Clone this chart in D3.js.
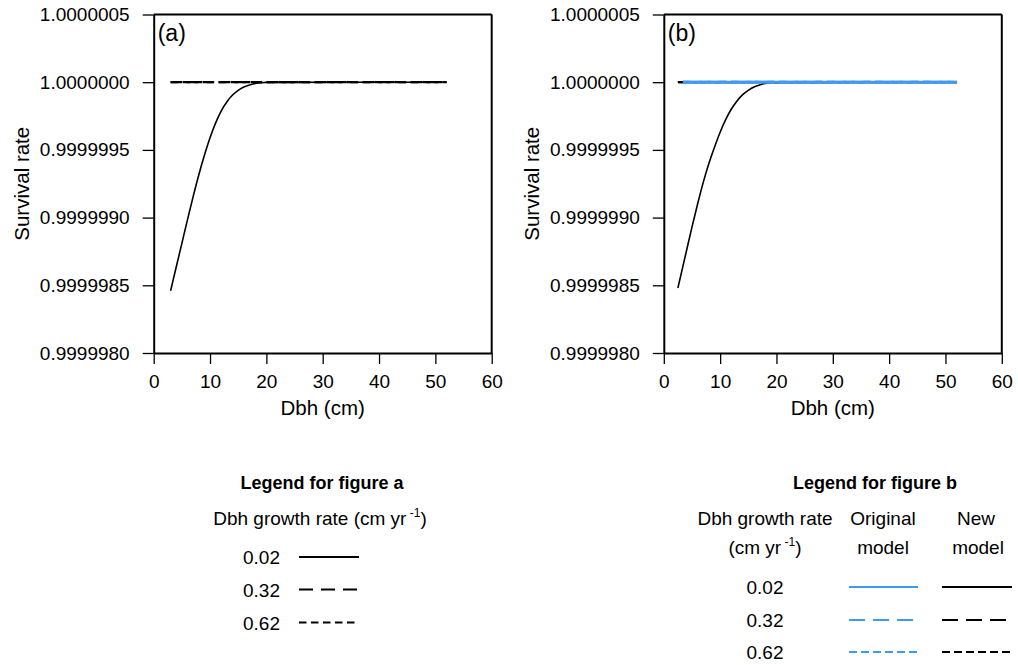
<!DOCTYPE html>
<html>
<head>
<meta charset="utf-8">
<script src="https://cdn.jsdelivr.net/npm/d3@7"></script>
<style>
  html, body { margin: 0; padding: 0; background: #fff; }
  text { font-family: "Liberation Sans", Arial, sans-serif; fill: #000; }
</style>
</head>
<body>
<svg id="chart" width="1018" height="665"></svg>
<script>
// ---------------- DATA ----------------
const xTicks = [0, 10, 20, 30, 40, 50, 60];
const xMinorTicks = [2, 4, 6, 8, 12, 14, 16, 18, 22, 24, 26, 28, 32, 34, 36, 38, 42, 44, 46, 48, 52, 54, 56, 58];
const yTicks = [0.9999980, 0.9999985, 0.9999990, 0.9999995, 1.0000000, 1.0000005];
const yTickLabels = ["0.9999980", "0.9999985", "0.9999990", "0.9999995", "1.0000000", "1.0000005"];
const yMinorTicks = [0.9999981, 0.9999982, 0.9999983, 0.9999984, 0.9999986, 0.9999987, 0.9999988, 0.9999989,
                     0.9999991, 0.9999992, 0.9999993, 0.9999994, 0.9999996, 0.9999997, 0.9999998, 0.9999999,
                     1.0000001, 1.0000002, 1.0000003, 1.0000004];
const growthRates = ["0.02", "0.32", "0.62"];

// Panel (a): survival vs dbh for growth 0.02 (curve) and 0.32 / 0.62 (flat at 1)
const dbhA02 = [3, 4, 5, 6, 7, 8, 9, 10, 11, 12, 13, 14, 15, 16, 17, 18, 19, 20, 52];
const survA02 = [0.99999846, 0.999998635, 0.99999881, 0.999998985, 0.999999155, 0.999999315, 0.99999946,
                 0.99999959, 0.9999997, 0.999999788, 0.999999855, 0.999999905, 0.99999994, 0.999999964,
                 0.99999998, 0.99999999, 0.999999996, 0.999999999, 1.0];
const dbhA32 = [3, 52];
const survA32 = [1.0, 1.0];
const dbhA62 = [3, 52];
const survA62 = [1.0, 1.0];

// Panel (b): new model (black) and original model (blue)
const dbhBNew02 = [2.5, 3, 4, 5, 6, 7, 8, 9, 10, 11, 12, 13, 14, 15, 16, 17, 18, 19, 20, 52];
const survBNew02 = [0.99999848, 0.99999857, 0.99999875, 0.99999893, 0.9999991, 0.99999926, 0.9999994,
                    0.99999952, 0.99999963, 0.999999725, 0.999999802, 0.999999862, 0.999999908, 0.99999994,
                    0.999999964, 0.99999998, 0.99999999, 0.999999996, 0.999999999, 1.0];
const dbhBNew32 = [2.5, 52];
const survBNew32 = [1.0, 1.0];
const dbhBNew62 = [2.5, 52];
const survBNew62 = [1.0, 1.0];
const dbhBOrig = [3.4, 52];
const survBOrig02 = [1.0, 1.0];
const survBOrig32 = [1.0, 1.0];
const survBOrig62 = [1.0, 1.0];

// ---------------- STYLE ----------------
const BLUE = "#3d9bf2";
const dashStyle = { "0.02": null, "0.32": "11.5,4.5", "0.62": "7.5,4.5" };

const svg = d3.select("#chart");
svg.append("rect").attr("width", 1018).attr("height", 665).attr("fill", "#fff");

const TICKFONT = 19;
const TITLEFONT = 20.5;

function panel(x0, x1, label, series) {
  const x = d3.scaleLinear().domain([0, 60]).range([x0, x1]);
  const y = d3.scaleLinear().domain([0.9999980, 1.0000005]).range([353, 14.5]);
  const g = svg.append("g");

  const line = d3.line().x(d => x(d[0])).y(d => y(d[1])).curve(d3.curveMonotoneX);
  series.forEach(s => {
    g.append("path")
      .datum(s.xs.map((v, i) => [v, s.ys[i]]))
      .attr("d", line)
      .attr("fill", "none")
      .attr("stroke", s.color)
      .attr("stroke-width", s.width)
      .attr("stroke-dasharray", s.dash);
  });

  // frame top & right
  g.append("line").attr("x1", x(0)).attr("x2", x(60)).attr("y1", y(1.0000005)).attr("y2", y(1.0000005))
    .attr("stroke", "#000").attr("stroke-width", 2);
  g.append("line").attr("x1", x(60)).attr("x2", x(60)).attr("y1", y(1.0000005)).attr("y2", y(0.999998))
    .attr("stroke", "#000").attr("stroke-width", 2);

  // x axis
  const xAxisG = g.append("g").attr("transform", `translate(0,${y(0.999998)})`);
  xAxisG.call(d3.axisBottom(x).tickValues(xMinorTicks).tickSize(6).tickFormat(""));
  xAxisG.call(d3.axisBottom(x).tickValues(xTicks).tickSize(11).tickSizeOuter(0).tickPadding(11).tickFormat(d3.format("d")));
  // y axis
  const yAxisG = g.append("g").attr("transform", `translate(${x(0)},0)`);
  yAxisG.call(d3.axisLeft(y).tickValues(yMinorTicks).tickSize(6).tickFormat(""));
  yAxisG.call(d3.axisLeft(y).tickValues(yTicks).tickSize(11).tickSizeOuter(0).tickPadding(13)
    .tickFormat((d, i) => yTickLabels[i]));

  [xAxisG, yAxisG].forEach(a => {
    a.selectAll(".domain").attr("stroke-width", 2).attr("stroke", "#000");
    a.selectAll(".tick line").attr("stroke-width", 1.3).attr("stroke", "#000");
    a.selectAll("text").style("font-size", TICKFONT + "px").style("font-family", '"Liberation Sans", Arial, sans-serif').attr("fill", "#000");
  });

  // axis titles
  g.append("text").attr("x", (x0 + x1) / 2).attr("y", 415).attr("text-anchor", "middle")
    .style("font-size", TITLEFONT + "px").text("Dbh (cm)");
  g.append("text").attr("transform", `translate(${x0 - 125},${y(0.99999925)}) rotate(-90)`)
    .attr("text-anchor", "middle").style("font-size", TITLEFONT + "px").text("Survival rate");
  // panel label
  g.append("text").attr("x", x0 + 4).attr("y", 41).style("font-size", "23px").text(label);
}

panel(153.7, 491.7, "(a)", [
  { xs: dbhA02, ys: survA02, color: "#000", width: 1.6, dash: dashStyle["0.02"] },
  { xs: dbhA32, ys: survA32, color: "#000", width: 2.2, dash: dashStyle["0.32"] },
  { xs: dbhA62, ys: survA62, color: "#000", width: 2.2, dash: dashStyle["0.62"] }
]);
panel(663.8, 1001.8, "(b)", [
  { xs: dbhBNew02, ys: survBNew02, color: "#000", width: 1.6, dash: dashStyle["0.02"] },
  { xs: dbhBNew32, ys: survBNew32, color: "#000", width: 2.2, dash: dashStyle["0.32"] },
  { xs: dbhBNew62, ys: survBNew62, color: "#000", width: 2.2, dash: dashStyle["0.62"] },
  { xs: dbhBOrig, ys: survBOrig02, color: BLUE, width: 2.8, dash: dashStyle["0.02"] },
  { xs: dbhBOrig, ys: survBOrig32, color: BLUE, width: 2.8, dash: dashStyle["0.32"] },
  { xs: dbhBOrig, ys: survBOrig62, color: BLUE, width: 2.8, dash: dashStyle["0.62"] }
]);

// ---------------- LEGENDS ----------------
const LF = 19;
function unitText(sel, prefix) {
  sel.text(prefix);
  sel.append("tspan").attr("dy", -8).style("font-size", "12px").text(" -1");
  sel.append("tspan").attr("dy", 8).text(")");
}

// Legend a
const la = svg.append("g");
la.append("text").attr("x", 322).attr("y", 489).attr("text-anchor", "middle")
  .style("font-size", "18px").style("font-weight", "bold").text("Legend for figure a");
unitText(la.append("text").attr("x", 320).attr("y", 525).attr("text-anchor", "middle").style("font-size", LF + "px"),
  "Dbh growth rate (cm yr");
const rowsA = [557, 589.5, 622.5];
growthRates.forEach((r, i) => {
  la.append("text").attr("x", 280).attr("y", rowsA[i] + 7).attr("text-anchor", "end")
    .style("font-size", LF + "px").text(r);
  la.append("line").attr("x1", 299).attr("x2", 359).attr("y1", rowsA[i]).attr("y2", rowsA[i])
    .attr("stroke", "#000").attr("stroke-width", 2).attr("stroke-dasharray", r === "0.32" ? "14,8" : dashStyle[r]);
});

// Legend b
const lb = svg.append("g");
lb.append("text").attr("x", 875).attr("y", 489).attr("text-anchor", "middle")
  .style("font-size", "18px").style("font-weight", "bold").text("Legend for figure b");
lb.append("text").attr("x", 765).attr("y", 525).attr("text-anchor", "middle").style("font-size", LF + "px").text("Dbh growth rate");
unitText(lb.append("text").attr("x", 765).attr("y", 554).attr("text-anchor", "middle").style("font-size", LF + "px"), "(cm yr");
lb.append("text").attr("x", 883).attr("y", 525).attr("text-anchor", "middle").style("font-size", LF + "px").text("Original");
lb.append("text").attr("x", 883).attr("y", 554).attr("text-anchor", "middle").style("font-size", LF + "px").text("model");
lb.append("text").attr("x", 976).attr("y", 525).attr("text-anchor", "middle").style("font-size", LF + "px").text("New");
lb.append("text").attr("x", 978).attr("y", 554).attr("text-anchor", "middle").style("font-size", LF + "px").text("model");
const rowsB = [587, 620, 652];
const dashB = { "0.02": null, "0.32": "16,8", "0.62": "8,4" };
growthRates.forEach((r, i) => {
  lb.append("text").attr("x", 765).attr("y", rowsB[i] + 7).attr("text-anchor", "middle")
    .style("font-size", LF + "px").text(r);
  lb.append("line").attr("x1", 849).attr("x2", 918).attr("y1", rowsB[i]).attr("y2", rowsB[i])
    .attr("stroke", BLUE).attr("stroke-width", 2).attr("stroke-dasharray", dashB[r]);
  lb.append("line").attr("x1", 942).attr("x2", 1012).attr("y1", rowsB[i]).attr("y2", rowsB[i])
    .attr("stroke", "#000").attr("stroke-width", 2).attr("stroke-dasharray", dashB[r]);
});
</script>
</body>
</html>
